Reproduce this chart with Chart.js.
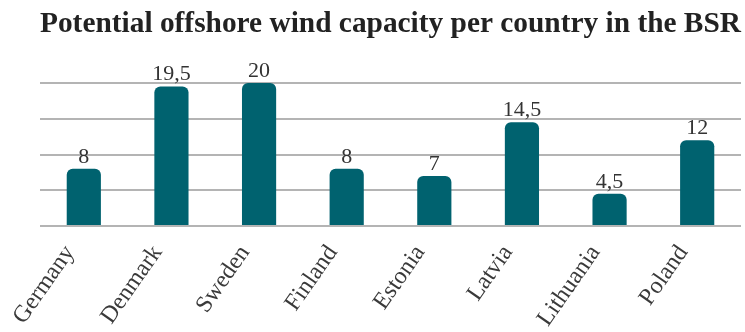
<!DOCTYPE html>
<html>
<head>
<meta charset="utf-8">
<script src="https://cdn.jsdelivr.net/npm/chart.js@4"></script>
<style>
  html, body { margin: 0; padding: 0; background: #fff; }
  #wrap { width: 745px; height: 332px; }
</style>
</head>
<body>
<div id="wrap"><canvas id="chart"></canvas></div>
<script>
const countries = ['Germany', 'Denmark', 'Sweden', 'Finland', 'Estonia', 'Latvia', 'Lithuania', 'Poland'];
const capacity = [8, 19.5, 20, 8, 7, 14.5, 4.5, 12];
const chartTitle = 'Potential offshore wind capacity per country in the BSR';

const serif = "'Liberation Serif', 'DejaVu Serif', serif";

// etiquetas de valor encima de cada barra (con coma decimal)
const valueLabels = {
    id: 'valueLabels',
    afterDatasetsDraw(chart) {
        const ctx = chart.ctx;
        const meta = chart.getDatasetMeta(0);
        ctx.save();
        ctx.font = '22px ' + serif;
        ctx.fillStyle = '#333';
        ctx.textAlign = 'center';
        ctx.textBaseline = 'bottom';
        meta.data.forEach((bar, i) => {
            ctx.fillText(String(capacity[i]).replace('.', ','), bar.x, bar.y - 1);
        });
        ctx.restore();
    }
};

const ctx = document.getElementById('chart').getContext('2d');
new Chart(ctx, {
    type: 'bar',
    data: {
        labels: countries,
        datasets: [{
            data: capacity,
            backgroundColor: '#00626f',
            borderRadius: 6,
            barPercentage: 0.39,
            categoryPercentage: 1
        }]
    },
    options: {
        responsive: true,
        maintainAspectRatio: false,
        animation: false,
        layout: {
            padding: { left: 40, right: 4, top: 0, bottom: 0 }
        },
        plugins: {
            legend: { display: false },
            tooltip: { enabled: false },
            title: {
                display: true,
                text: chartTitle,
                color: '#222',
                font: { family: serif, size: 29.5, weight: 'bold' },
                padding: { top: 7, bottom: 40.6 }
            }
        },
        scales: {
            x: {
                grid: { display: false },
                border: { display: false },
                ticks: {
                    color: '#3a3a3a',
                    font: { family: serif, size: 24 },
                    minRotation: 55,
                    maxRotation: 55,
                    labelOffset: -14,
                    padding: 6
                },
                afterFit(scale) { scale.height = 106; }
            },
            y: {
                min: 0,
                max: 20,
                ticks: { display: false, stepSize: 5 },
                border: { display: false },
                grid: { color: '#b4b4b4', lineWidth: 2, drawTicks: false },
                afterFit(scale) { scale.width = 0; }
            }
        }
    },
    plugins: [valueLabels]
});
</script>
</body>
</html>
